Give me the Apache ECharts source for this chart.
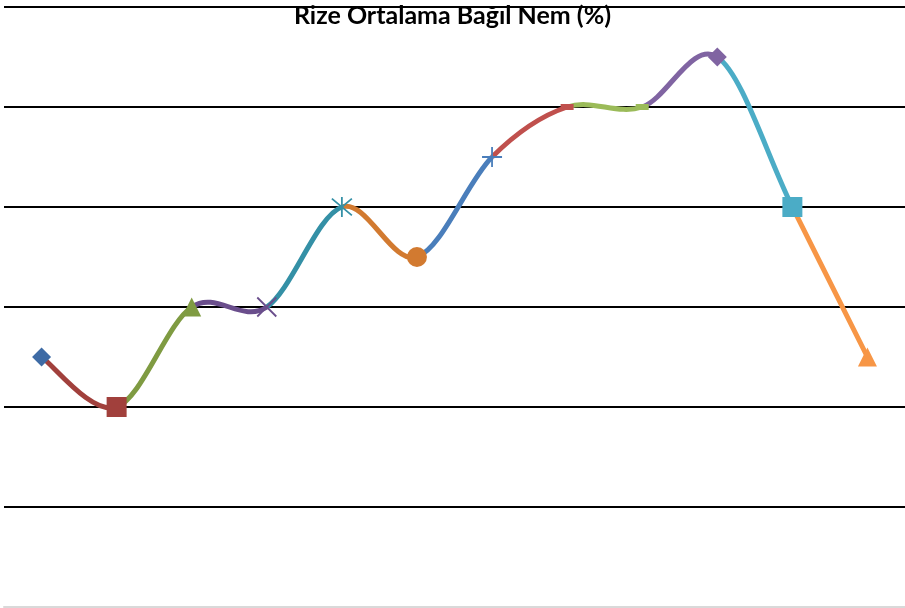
<!DOCTYPE html>
<html>
<head>
<meta charset="utf-8">
<script src="https://cdn.jsdelivr.net/npm/echarts@6/dist/echarts.min.js"></script>
<style>html,body{margin:0;padding:0;background:#fff;}#c{width:905px;height:608px;}</style>
</head>
<body>
<div id="c"></div>
<script>
var titleText = 'Rize Ortalama Bağıl Nem (%)';
var categories = ['Ocak','Şubat','Mart','Nisan','Mayıs','Haziran','Temmuz','Ağustos','Eylül','Ekim','Kasım','Aralık'];
var humidity = [73, 72, 74, 74, 76, 75, 77, 78, 78, 79, 76, 73];
var yTicks = {min: 68, max: 80, interval: 2};

var pointColors = ['#3e6ba5','#a1403c','#7f9b42','#6a4e8c','#3490a6','#d27a30',
                   '#4a7ebb','#c0504d','#9bbb59','#8064a2','#4bacc6','#f79646'];
var pointSymbols = ['diamond','rect','triangle','path://M0,0L10,10M10,0L0,10',
                    'path://M0,0L10,10M10,0L0,10M5,-1L5,11','circle','path://M5,0L5,10M0,5L10,5',
                    'rect','rect','diamond','rect','triangle'];
var pointSizes = [19,20,19,19,20,20,20,[13,6],[13,6],19,20,19];
var strokeOnly = [false,false,false,true,true,false,true,false,false,false,false,false];

var markerData = humidity.map(function (v, i) {
  var item = {value: [i, v], symbol: pointSymbols[i], symbolSize: pointSizes[i]};
  if (strokeOnly[i]) {
    item.itemStyle = {color: 'rgba(0,0,0,0)', borderColor: pointColors[i], borderWidth: 1.8, opacity: 1};
  } else {
    item.itemStyle = {color: pointColors[i], opacity: 1};
  }
  return item;
});

// Excel-style smoothed segments (Catmull-Rom -> Bezier), each coloured by its end point
function renderSegment(params, api) {
  var i = params.dataIndex;
  if (i === 0) return null;
  var n = humidity.length;
  function pt(j) {
    j = Math.max(0, Math.min(n - 1, j));
    return api.coord([j, humidity[j]]);
  }
  var p0 = pt(i - 2), p1 = pt(i - 1), p2 = pt(i), p3 = pt(i + 1);
  var t = 1 / 6;
  return {
    type: 'bezierCurve',
    shape: {
      x1: p1[0], y1: p1[1], x2: p2[0], y2: p2[1],
      cpx1: p1[0] + (p2[0] - p0[0]) * t, cpy1: p1[1] + (p2[1] - p0[1]) * t,
      cpx2: p2[0] - (p3[0] - p1[0]) * t, cpy2: p2[1] - (p3[1] - p1[1]) * t
    },
    style: {stroke: pointColors[i], lineWidth: 5, fill: null, lineCap: 'butt'}
  };
}

var chart = echarts.init(document.getElementById('c'), null, {renderer: 'canvas'});
chart.setOption({
  animation: false,
  backgroundColor: '#ffffff',
  title: {
    text: titleText, left: 'center', top: 3, padding: 0,
    textStyle: {fontFamily: 'Lato', fontWeight: 'bold', fontSize: 25, color: '#000'}
  },
  grid: {left: 4, right: 0, top: 7, bottom: 1, containLabel: false},
  xAxis: {
    type: 'category', data: categories, boundaryGap: true,
    axisLine: {show: true, lineStyle: {color: '#d9d9d9', width: 2}},
    axisTick: {show: false}, axisLabel: {show: false}, splitLine: {show: false}, z: 5
  },
  yAxis: {
    type: 'value', min: yTicks.min, max: yTicks.max, interval: yTicks.interval,
    axisLine: {show: false}, axisTick: {show: false}, axisLabel: {show: false},
    splitLine: {show: true, lineStyle: {color: '#000', width: 2}}
  },
  series: [
    {
      type: 'custom', renderItem: renderSegment,
      data: humidity.map(function (v, i) { return [i, v]; }),
      encode: {x: 0, y: 1}, z: 2, silent: true
    },
    {
      type: 'scatter', data: markerData, z: 3
    }
  ]
});
</script>
</body>
</html>
